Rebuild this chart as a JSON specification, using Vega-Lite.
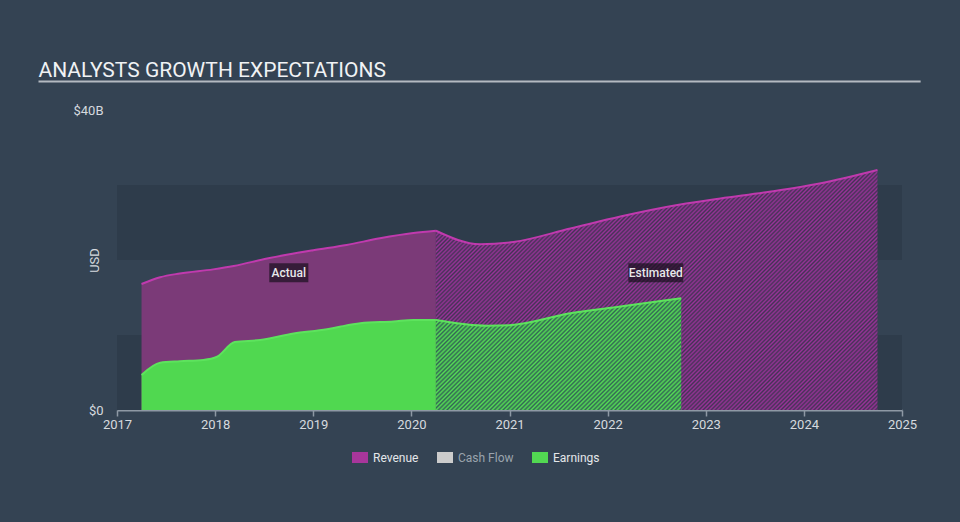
{
"$schema": "https://vega.github.io/schema/vega-lite/v6.json",
"width": 785,
"height": 300,
"autosize": {"type": "none"},
"padding": {"left": 117, "top": 110, "right": 58, "bottom": 112},
"background": "#344353",
"config": {"view": {"stroke": null}, "font": "Roboto"},
"datasets": {
"d": [
{"series":"Revenue","phase":"Actual","t":2017.25,"v":16.8},
{"series":"Revenue","phase":"Actual","t":2017.44,"v":17.7},
{"series":"Revenue","phase":"Actual","t":2017.64,"v":18.2},
{"series":"Revenue","phase":"Actual","t":2017.98,"v":18.75},
{"series":"Revenue","phase":"Actual","t":2018.19,"v":19.2},
{"series":"Revenue","phase":"Actual","t":2018.53,"v":20.2},
{"series":"Revenue","phase":"Actual","t":2019.0,"v":21.3},
{"series":"Revenue","phase":"Actual","t":2019.34,"v":22.0},
{"series":"Revenue","phase":"Actual","t":2019.68,"v":22.9},
{"series":"Revenue","phase":"Actual","t":2020.02,"v":23.6},
{"series":"Revenue","phase":"Actual","t":2020.25,"v":23.9},
{"series":"Revenue","phase":"Estimated","t":2020.25,"v":23.9},
{"series":"Revenue","phase":"Estimated","t":2020.7,"v":22.1},
{"series":"Revenue","phase":"Estimated","t":2021.04,"v":22.4},
{"series":"Revenue","phase":"Estimated","t":2021.62,"v":24.2},
{"series":"Revenue","phase":"Estimated","t":2022.13,"v":25.8},
{"series":"Revenue","phase":"Estimated","t":2022.74,"v":27.4},
{"series":"Revenue","phase":"Estimated","t":2023.15,"v":28.2},
{"series":"Revenue","phase":"Estimated","t":2023.65,"v":29.1},
{"series":"Revenue","phase":"Estimated","t":2024.16,"v":30.2},
{"series":"Revenue","phase":"Estimated","t":2024.75,"v":32.0},
{"series":"Earnings","phase":"Actual","t":2017.25,"v":4.67},
{"series":"Earnings","phase":"Actual","t":2017.44,"v":6.3},
{"series":"Earnings","phase":"Actual","t":2017.64,"v":6.5},
{"series":"Earnings","phase":"Actual","t":2017.88,"v":6.67},
{"series":"Earnings","phase":"Actual","t":2018.02,"v":7.1},
{"series":"Earnings","phase":"Actual","t":2018.2,"v":9.07},
{"series":"Earnings","phase":"Actual","t":2018.46,"v":9.33},
{"series":"Earnings","phase":"Actual","t":2018.8,"v":10.2},
{"series":"Earnings","phase":"Actual","t":2019.14,"v":10.76},
{"series":"Earnings","phase":"Actual","t":2019.27,"v":11.1},
{"series":"Earnings","phase":"Actual","t":2019.48,"v":11.56},
{"series":"Earnings","phase":"Actual","t":2019.82,"v":11.8},
{"series":"Earnings","phase":"Actual","t":2020.02,"v":12.0},
{"series":"Earnings","phase":"Actual","t":2020.25,"v":12.0},
{"series":"Earnings","phase":"Estimated","t":2020.25,"v":12.0},
{"series":"Earnings","phase":"Estimated","t":2020.77,"v":11.24},
{"series":"Earnings","phase":"Estimated","t":2021.0,"v":11.3},
{"series":"Earnings","phase":"Estimated","t":2021.62,"v":12.9},
{"series":"Earnings","phase":"Estimated","t":2022.13,"v":13.8},
{"series":"Earnings","phase":"Estimated","t":2022.75,"v":14.9}
],
"bands": [{"lo":0,"hi":10},{"lo":20,"hi":30}]
},
"layer": [
{
"data": {"name": "bands"},
"mark": {"type": "rect", "fill": "#2e3c4b"},
"encoding": {
"x": {"datum": 2017, "type": "quantitative", "scale": {"domain": [2017, 2025], "nice": false},
"axis": {"values": [2017,2018,2019,2020,2021,2022,2023,2024,2025], "format": "d", "title": null, "grid": false, "labelFlush": false, "tickSize": 6, "labelPadding": 2, "domainColor": "#8e99a5", "domainWidth": 2, "tickColor": "#8e99a5", "tickWidth": 1.5, "labelColor": "#d6dadf", "labelFontSize": 13, "labelFont": "Roboto"}},
"x2": {"datum": 2025},
"y": {"field": "lo", "type": "quantitative", "scale": {"domain": [0, 40], "nice": false},
"axis": {"values": [0, 40], "labelExpr": "datum.value == 0 ? '$0' : '$' + datum.value + 'B'", "title": "USD", "titleX": -19, "titleY": 150, "titleAngle": -90, "titleBaseline": "alphabetic", "titleFontSize": 13, "titleFontWeight": "normal", "titleColor": "#d6dadf", "titleFont": "Roboto", "labelColor": "#d6dadf", "labelFontSize": 13, "labelFont": "Roboto", "labelPadding": 14, "domain": false, "ticks": false, "grid": false}},
"y2": {"field": "hi"}
}
},
{
"data": {"values": [{"label": "ANALYSTS GROWTH EXPECTATIONS"}]},
"mark": {"type": "rule", "color": "#b4bac1", "strokeWidth": 2},
"encoding": {
"x": {"datum": 2016.2, "type": "quantitative", "scale": {"domain": [2017, 2025], "nice": false}},
"x2": {"datum": 2025.19},
"y": {"datum": 43.8, "type": "quantitative", "scale": {"domain": [0, 40], "nice": false}}
}
},
{
"data": {"values": [{"label": "ANALYSTS GROWTH EXPECTATIONS"}]},
"mark": {"type": "text", "align": "left", "baseline": "alphabetic", "fontSize": 21, "fontWeight": "normal", "font": "Roboto", "color": "#f0f2f4"},
"encoding": {
"x": {"datum": 2016.2, "type": "quantitative", "scale": {"domain": [2017, 2025], "nice": false}},
"y": {"datum": 44.4, "type": "quantitative", "scale": {"domain": [0, 40], "nice": false}},
"text": {"field": "label"}
}
},
{
"data": {"name": "d"},
"transform": [{"filter": "false"}],
"mark": {"type": "rect", "opacity": 1},
"encoding": {
"x": {"field": "t", "type": "quantitative", "scale": {"domain": [2017, 2025], "nice": false}},
"y": {"field": "v", "type": "quantitative", "scale": {"domain": [0, 40], "nice": false}},
"color": {"field": "series", "type": "nominal",
"scale": {"domain": ["Revenue", "Cash Flow", "Earnings"], "range": ["#a8369b", "#cccccc", "#52d852"]},
"legend": {"title": null, "orient": "none", "legendX": 235, "legendY": 339.5, "direction": "horizontal", "padding": 0,
"symbolType": "M-1,-0.69H1V0.69H-1Z", "symbolSize": 256, "symbolStrokeWidth": 0, "symbolOpacity": 1,
"labelFontSize": 12, "labelFontWeight": "normal", "labelFont": "Roboto", "labelOffset": 5, "columnPadding": 18,
"encode": {
"labels": {"update": {"fill": {"signal": "datum.value === 'Cash Flow' ? '#9aa3ad' : '#e4e7ea'"}}}
}}}
}
},
{
"data": {"name": "d"},
"transform": [{"filter": "datum.series === 'Revenue' && datum.phase === 'Actual'"}],
"mark": {"type": "area", "interpolate": "monotone", "fill": "#7b3a78"},
"encoding": {
"x": {"field": "t", "type": "quantitative", "scale": {"domain": [2017, 2025], "nice": false}},
"y": {"field": "v", "type": "quantitative", "stack": null, "scale": {"domain": [0, 40], "nice": false}}
}
},
{
"data": {"name": "d"},
"transform": [{"filter": "datum.series === 'Revenue' && datum.phase === 'Estimated'"}],
"mark": {"type": "area", "interpolate": "monotone",
"fill": {"gradient": "linear", "x1": 0, "y1": 0, "x2": 1.1964, "y2": 0.6502, "stops": [
{"offset":0,"color":"#939"},{"offset":0.003,"color":"#435"},{"offset":0.006,"color":"#939"},{"offset":0.009,"color":"#435"},{"offset":0.012,"color":"#939"},{"offset":0.015,"color":"#435"},{"offset":0.018,"color":"#939"},{"offset":0.021,"color":"#435"},{"offset":0.024,"color":"#939"},{"offset":0.027,"color":"#435"},
{"offset":0.03,"color":"#939"},{"offset":0.033,"color":"#435"},{"offset":0.036,"color":"#939"},{"offset":0.039,"color":"#435"},{"offset":0.042,"color":"#939"},{"offset":0.045,"color":"#435"},{"offset":0.048,"color":"#939"},{"offset":0.051,"color":"#435"},{"offset":0.054,"color":"#939"},{"offset":0.057,"color":"#435"},
{"offset":0.06,"color":"#939"},{"offset":0.063,"color":"#435"},{"offset":0.066,"color":"#939"},{"offset":0.069,"color":"#435"},{"offset":0.072,"color":"#939"},{"offset":0.075,"color":"#435"},{"offset":0.078,"color":"#939"},{"offset":0.081,"color":"#435"},{"offset":0.084,"color":"#939"},{"offset":0.087,"color":"#435"},
{"offset":0.09,"color":"#939"},{"offset":0.093,"color":"#435"},{"offset":0.096,"color":"#939"},{"offset":0.099,"color":"#435"},{"offset":0.102,"color":"#939"},{"offset":0.105,"color":"#435"},{"offset":0.108,"color":"#939"},{"offset":0.111,"color":"#435"},{"offset":0.114,"color":"#939"},{"offset":0.117,"color":"#435"},
{"offset":0.12,"color":"#939"},{"offset":0.123,"color":"#435"},{"offset":0.126,"color":"#939"},{"offset":0.129,"color":"#435"},{"offset":0.132,"color":"#939"},{"offset":0.135,"color":"#435"},{"offset":0.138,"color":"#939"},{"offset":0.141,"color":"#435"},{"offset":0.144,"color":"#939"},{"offset":0.147,"color":"#435"},
{"offset":0.15,"color":"#939"},{"offset":0.153,"color":"#435"},{"offset":0.156,"color":"#939"},{"offset":0.159,"color":"#435"},{"offset":0.162,"color":"#939"},{"offset":0.165,"color":"#435"},{"offset":0.168,"color":"#939"},{"offset":0.171,"color":"#435"},{"offset":0.174,"color":"#939"},{"offset":0.177,"color":"#435"},
{"offset":0.18,"color":"#939"},{"offset":0.183,"color":"#435"},{"offset":0.186,"color":"#939"},{"offset":0.189,"color":"#435"},{"offset":0.192,"color":"#939"},{"offset":0.195,"color":"#435"},{"offset":0.198,"color":"#939"},{"offset":0.201,"color":"#435"},{"offset":0.204,"color":"#939"},{"offset":0.207,"color":"#435"},
{"offset":0.21,"color":"#939"},{"offset":0.213,"color":"#435"},{"offset":0.216,"color":"#939"},{"offset":0.219,"color":"#435"},{"offset":0.222,"color":"#939"},{"offset":0.225,"color":"#435"},{"offset":0.228,"color":"#939"},{"offset":0.231,"color":"#435"},{"offset":0.234,"color":"#939"},{"offset":0.237,"color":"#435"},
{"offset":0.24,"color":"#939"},{"offset":0.243,"color":"#435"},{"offset":0.246,"color":"#939"},{"offset":0.249,"color":"#435"},{"offset":0.252,"color":"#939"},{"offset":0.255,"color":"#435"},{"offset":0.258,"color":"#939"},{"offset":0.261,"color":"#435"},{"offset":0.264,"color":"#939"},{"offset":0.267,"color":"#435"},
{"offset":0.27,"color":"#939"},{"offset":0.273,"color":"#435"},{"offset":0.276,"color":"#939"},{"offset":0.279,"color":"#435"},{"offset":0.282,"color":"#939"},{"offset":0.285,"color":"#435"},{"offset":0.288,"color":"#939"},{"offset":0.291,"color":"#435"},{"offset":0.294,"color":"#939"},{"offset":0.297,"color":"#435"},
{"offset":0.3,"color":"#939"},{"offset":0.303,"color":"#435"},{"offset":0.306,"color":"#939"},{"offset":0.309,"color":"#435"},{"offset":0.312,"color":"#939"},{"offset":0.315,"color":"#435"},{"offset":0.318,"color":"#939"},{"offset":0.321,"color":"#435"},{"offset":0.324,"color":"#939"},{"offset":0.327,"color":"#435"},
{"offset":0.33,"color":"#939"},{"offset":0.333,"color":"#435"},{"offset":0.336,"color":"#939"},{"offset":0.339,"color":"#435"},{"offset":0.342,"color":"#939"},{"offset":0.345,"color":"#435"},{"offset":0.348,"color":"#939"},{"offset":0.351,"color":"#435"},{"offset":0.354,"color":"#939"},{"offset":0.357,"color":"#435"},
{"offset":0.36,"color":"#939"},{"offset":0.363,"color":"#435"},{"offset":0.366,"color":"#939"},{"offset":0.369,"color":"#435"},{"offset":0.372,"color":"#939"},{"offset":0.375,"color":"#435"},{"offset":0.378,"color":"#939"},{"offset":0.381,"color":"#435"},{"offset":0.384,"color":"#939"},{"offset":0.387,"color":"#435"},
{"offset":0.39,"color":"#939"},{"offset":0.393,"color":"#435"},{"offset":0.396,"color":"#939"},{"offset":0.399,"color":"#435"},{"offset":0.402,"color":"#939"},{"offset":0.405,"color":"#435"},{"offset":0.408,"color":"#939"},{"offset":0.411,"color":"#435"},{"offset":0.414,"color":"#939"},{"offset":0.417,"color":"#435"},
{"offset":0.42,"color":"#939"},{"offset":0.423,"color":"#435"},{"offset":0.426,"color":"#939"},{"offset":0.429,"color":"#435"},{"offset":0.432,"color":"#939"},{"offset":0.435,"color":"#435"},{"offset":0.438,"color":"#939"},{"offset":0.441,"color":"#435"},{"offset":0.444,"color":"#939"},{"offset":0.447,"color":"#435"},
{"offset":0.45,"color":"#939"},{"offset":0.453,"color":"#435"},{"offset":0.456,"color":"#939"},{"offset":0.459,"color":"#435"},{"offset":0.462,"color":"#939"},{"offset":0.465,"color":"#435"},{"offset":0.468,"color":"#939"},{"offset":0.471,"color":"#435"},{"offset":0.474,"color":"#939"},{"offset":0.477,"color":"#435"},
{"offset":0.48,"color":"#939"},{"offset":0.483,"color":"#435"},{"offset":0.486,"color":"#939"},{"offset":0.489,"color":"#435"},{"offset":0.492,"color":"#939"},{"offset":0.495,"color":"#435"},{"offset":0.498,"color":"#939"},{"offset":0.501,"color":"#435"},{"offset":0.504,"color":"#939"},{"offset":0.507,"color":"#435"},
{"offset":0.51,"color":"#939"},{"offset":0.513,"color":"#435"},{"offset":0.516,"color":"#939"},{"offset":0.519,"color":"#435"},{"offset":0.522,"color":"#939"},{"offset":0.525,"color":"#435"},{"offset":0.528,"color":"#939"},{"offset":0.531,"color":"#435"},{"offset":0.534,"color":"#939"},{"offset":0.537,"color":"#435"},
{"offset":0.54,"color":"#939"},{"offset":0.543,"color":"#435"},{"offset":0.546,"color":"#939"},{"offset":0.549,"color":"#435"},{"offset":0.552,"color":"#939"},{"offset":0.555,"color":"#435"},{"offset":0.558,"color":"#939"},{"offset":0.561,"color":"#435"},{"offset":0.564,"color":"#939"},{"offset":0.567,"color":"#435"},
{"offset":0.57,"color":"#939"},{"offset":0.573,"color":"#435"},{"offset":0.576,"color":"#939"},{"offset":0.579,"color":"#435"},{"offset":0.582,"color":"#939"},{"offset":0.585,"color":"#435"},{"offset":0.588,"color":"#939"},{"offset":0.591,"color":"#435"},{"offset":0.594,"color":"#939"},{"offset":0.597,"color":"#435"},
{"offset":0.6,"color":"#939"},{"offset":0.603,"color":"#435"},{"offset":0.606,"color":"#939"},{"offset":0.609,"color":"#435"},{"offset":0.612,"color":"#939"},{"offset":0.615,"color":"#435"},{"offset":0.618,"color":"#939"},{"offset":0.621,"color":"#435"},{"offset":0.624,"color":"#939"},{"offset":0.627,"color":"#435"},
{"offset":0.63,"color":"#939"},{"offset":0.633,"color":"#435"},{"offset":0.636,"color":"#939"},{"offset":0.639,"color":"#435"},{"offset":0.642,"color":"#939"},{"offset":0.645,"color":"#435"},{"offset":0.648,"color":"#939"},{"offset":0.651,"color":"#435"},{"offset":0.654,"color":"#939"},{"offset":0.657,"color":"#435"},
{"offset":0.66,"color":"#939"},{"offset":0.663,"color":"#435"},{"offset":0.666,"color":"#939"},{"offset":0.669,"color":"#435"},{"offset":0.672,"color":"#939"},{"offset":0.675,"color":"#435"},{"offset":0.678,"color":"#939"},{"offset":0.681,"color":"#435"},{"offset":0.684,"color":"#939"},{"offset":0.687,"color":"#435"},
{"offset":0.69,"color":"#939"},{"offset":0.693,"color":"#435"},{"offset":0.696,"color":"#939"},{"offset":0.699,"color":"#435"},{"offset":0.702,"color":"#939"},{"offset":0.705,"color":"#435"},{"offset":0.708,"color":"#939"},{"offset":0.711,"color":"#435"},{"offset":0.714,"color":"#939"},{"offset":0.717,"color":"#435"},
{"offset":0.72,"color":"#939"},{"offset":0.723,"color":"#435"},{"offset":0.726,"color":"#939"},{"offset":0.729,"color":"#435"},{"offset":0.732,"color":"#939"},{"offset":0.735,"color":"#435"},{"offset":0.738,"color":"#939"},{"offset":0.741,"color":"#435"},{"offset":0.744,"color":"#939"},{"offset":0.747,"color":"#435"},
{"offset":0.75,"color":"#939"},{"offset":0.753,"color":"#435"},{"offset":0.756,"color":"#939"},{"offset":0.759,"color":"#435"},{"offset":0.762,"color":"#939"},{"offset":0.765,"color":"#435"},{"offset":0.768,"color":"#939"},{"offset":0.771,"color":"#435"},{"offset":0.774,"color":"#939"},{"offset":0.777,"color":"#435"},
{"offset":0.78,"color":"#939"},{"offset":0.783,"color":"#435"},{"offset":0.786,"color":"#939"},{"offset":0.789,"color":"#435"},{"offset":0.792,"color":"#939"},{"offset":0.795,"color":"#435"},{"offset":0.798,"color":"#939"},{"offset":0.801,"color":"#435"},{"offset":0.804,"color":"#939"},{"offset":0.807,"color":"#435"},
{"offset":0.81,"color":"#939"},{"offset":0.813,"color":"#435"},{"offset":0.816,"color":"#939"},{"offset":0.819,"color":"#435"},{"offset":0.822,"color":"#939"},{"offset":0.825,"color":"#435"},{"offset":0.828,"color":"#939"},{"offset":0.831,"color":"#435"},{"offset":0.834,"color":"#939"},{"offset":0.837,"color":"#435"},
{"offset":0.84,"color":"#939"},{"offset":0.843,"color":"#435"},{"offset":0.846,"color":"#939"},{"offset":0.849,"color":"#435"},{"offset":0.852,"color":"#939"},{"offset":0.855,"color":"#435"},{"offset":0.858,"color":"#939"},{"offset":0.861,"color":"#435"},{"offset":0.864,"color":"#939"},{"offset":0.867,"color":"#435"},
{"offset":0.87,"color":"#939"},{"offset":0.873,"color":"#435"},{"offset":0.876,"color":"#939"},{"offset":0.879,"color":"#435"},{"offset":0.882,"color":"#939"},{"offset":0.885,"color":"#435"},{"offset":0.888,"color":"#939"},{"offset":0.891,"color":"#435"},{"offset":0.894,"color":"#939"},{"offset":0.897,"color":"#435"},
{"offset":0.9,"color":"#939"},{"offset":0.903,"color":"#435"},{"offset":0.906,"color":"#939"},{"offset":0.909,"color":"#435"},{"offset":0.912,"color":"#939"},{"offset":0.915,"color":"#435"},{"offset":0.918,"color":"#939"},{"offset":0.921,"color":"#435"},{"offset":0.924,"color":"#939"},{"offset":0.927,"color":"#435"},
{"offset":0.93,"color":"#939"},{"offset":0.933,"color":"#435"},{"offset":0.936,"color":"#939"},{"offset":0.939,"color":"#435"},{"offset":0.942,"color":"#939"},{"offset":0.945,"color":"#435"},{"offset":0.948,"color":"#939"},{"offset":0.951,"color":"#435"},{"offset":0.954,"color":"#939"},{"offset":0.957,"color":"#435"},
{"offset":0.96,"color":"#939"},{"offset":0.963,"color":"#435"},{"offset":0.966,"color":"#939"},{"offset":0.969,"color":"#435"},{"offset":0.972,"color":"#939"},{"offset":0.975,"color":"#435"},{"offset":0.978,"color":"#939"},{"offset":0.981,"color":"#435"},{"offset":0.984,"color":"#939"},{"offset":0.987,"color":"#435"},
{"offset":0.99,"color":"#939"},{"offset":0.993,"color":"#435"},{"offset":0.996,"color":"#939"},{"offset":0.999,"color":"#435"},{"offset":1,"color":"#939"}
]}},
"encoding": {
"x": {"field": "t", "type": "quantitative", "scale": {"domain": [2017, 2025], "nice": false}},
"y": {"field": "v", "type": "quantitative", "stack": null, "scale": {"domain": [0, 40], "nice": false}}
}
},
{
"data": {"name": "d"},
"transform": [{"filter": "datum.series === 'Earnings' && datum.phase === 'Actual'"}],
"mark": {"type": "area", "interpolate": "monotone", "fill": "#50d850"},
"encoding": {
"x": {"field": "t", "type": "quantitative", "scale": {"domain": [2017, 2025], "nice": false}},
"y": {"field": "v", "type": "quantitative", "stack": null, "scale": {"domain": [0, 40], "nice": false}}
}
},
{
"data": {"name": "d"},
"transform": [{"filter": "datum.series === 'Earnings' && datum.phase === 'Estimated'"}],
"mark": {"type": "area", "interpolate": "monotone",
"fill": {"gradient": "linear", "x1": 0, "y1": 0, "x2": 1.2126, "y2": 0.5524, "stops": [
{"offset":0,"color":"#5d5"},{"offset":0.006,"color":"#365"},{"offset":0.012,"color":"#5d5"},{"offset":0.018,"color":"#365"},{"offset":0.024,"color":"#5d5"},{"offset":0.03,"color":"#365"},{"offset":0.036,"color":"#5d5"},{"offset":0.042,"color":"#365"},{"offset":0.048,"color":"#5d5"},{"offset":0.054,"color":"#365"},
{"offset":0.06,"color":"#5d5"},{"offset":0.066,"color":"#365"},{"offset":0.072,"color":"#5d5"},{"offset":0.078,"color":"#365"},{"offset":0.084,"color":"#5d5"},{"offset":0.09,"color":"#365"},{"offset":0.096,"color":"#5d5"},{"offset":0.102,"color":"#365"},{"offset":0.108,"color":"#5d5"},{"offset":0.114,"color":"#365"},
{"offset":0.12,"color":"#5d5"},{"offset":0.126,"color":"#365"},{"offset":0.132,"color":"#5d5"},{"offset":0.138,"color":"#365"},{"offset":0.144,"color":"#5d5"},{"offset":0.15,"color":"#365"},{"offset":0.156,"color":"#5d5"},{"offset":0.162,"color":"#365"},{"offset":0.168,"color":"#5d5"},{"offset":0.174,"color":"#365"},
{"offset":0.18,"color":"#5d5"},{"offset":0.186,"color":"#365"},{"offset":0.192,"color":"#5d5"},{"offset":0.198,"color":"#365"},{"offset":0.204,"color":"#5d5"},{"offset":0.21,"color":"#365"},{"offset":0.216,"color":"#5d5"},{"offset":0.222,"color":"#365"},{"offset":0.228,"color":"#5d5"},{"offset":0.234,"color":"#365"},
{"offset":0.24,"color":"#5d5"},{"offset":0.246,"color":"#365"},{"offset":0.252,"color":"#5d5"},{"offset":0.258,"color":"#365"},{"offset":0.264,"color":"#5d5"},{"offset":0.27,"color":"#365"},{"offset":0.276,"color":"#5d5"},{"offset":0.282,"color":"#365"},{"offset":0.288,"color":"#5d5"},{"offset":0.294,"color":"#365"},
{"offset":0.3,"color":"#5d5"},{"offset":0.306,"color":"#365"},{"offset":0.312,"color":"#5d5"},{"offset":0.318,"color":"#365"},{"offset":0.324,"color":"#5d5"},{"offset":0.33,"color":"#365"},{"offset":0.336,"color":"#5d5"},{"offset":0.342,"color":"#365"},{"offset":0.348,"color":"#5d5"},{"offset":0.354,"color":"#365"},
{"offset":0.36,"color":"#5d5"},{"offset":0.366,"color":"#365"},{"offset":0.372,"color":"#5d5"},{"offset":0.378,"color":"#365"},{"offset":0.384,"color":"#5d5"},{"offset":0.39,"color":"#365"},{"offset":0.396,"color":"#5d5"},{"offset":0.402,"color":"#365"},{"offset":0.408,"color":"#5d5"},{"offset":0.414,"color":"#365"},
{"offset":0.42,"color":"#5d5"},{"offset":0.426,"color":"#365"},{"offset":0.432,"color":"#5d5"},{"offset":0.438,"color":"#365"},{"offset":0.444,"color":"#5d5"},{"offset":0.45,"color":"#365"},{"offset":0.456,"color":"#5d5"},{"offset":0.462,"color":"#365"},{"offset":0.468,"color":"#5d5"},{"offset":0.474,"color":"#365"},
{"offset":0.48,"color":"#5d5"},{"offset":0.486,"color":"#365"},{"offset":0.492,"color":"#5d5"},{"offset":0.498,"color":"#365"},{"offset":0.504,"color":"#5d5"},{"offset":0.51,"color":"#365"},{"offset":0.516,"color":"#5d5"},{"offset":0.522,"color":"#365"},{"offset":0.528,"color":"#5d5"},{"offset":0.534,"color":"#365"},
{"offset":0.54,"color":"#5d5"},{"offset":0.546,"color":"#365"},{"offset":0.552,"color":"#5d5"},{"offset":0.558,"color":"#365"},{"offset":0.564,"color":"#5d5"},{"offset":0.57,"color":"#365"},{"offset":0.576,"color":"#5d5"},{"offset":0.582,"color":"#365"},{"offset":0.588,"color":"#5d5"},{"offset":0.594,"color":"#365"},
{"offset":0.6,"color":"#5d5"},{"offset":0.606,"color":"#365"},{"offset":0.612,"color":"#5d5"},{"offset":0.618,"color":"#365"},{"offset":0.624,"color":"#5d5"},{"offset":0.63,"color":"#365"},{"offset":0.636,"color":"#5d5"},{"offset":0.642,"color":"#365"},{"offset":0.648,"color":"#5d5"},{"offset":0.654,"color":"#365"},
{"offset":0.66,"color":"#5d5"},{"offset":0.666,"color":"#365"},{"offset":0.672,"color":"#5d5"},{"offset":0.678,"color":"#365"},{"offset":0.684,"color":"#5d5"},{"offset":0.69,"color":"#365"},{"offset":0.696,"color":"#5d5"},{"offset":0.702,"color":"#365"},{"offset":0.708,"color":"#5d5"},{"offset":0.714,"color":"#365"},
{"offset":0.72,"color":"#5d5"},{"offset":0.726,"color":"#365"},{"offset":0.732,"color":"#5d5"},{"offset":0.738,"color":"#365"},{"offset":0.744,"color":"#5d5"},{"offset":0.75,"color":"#365"},{"offset":0.756,"color":"#5d5"},{"offset":0.762,"color":"#365"},{"offset":0.768,"color":"#5d5"},{"offset":0.774,"color":"#365"},
{"offset":0.78,"color":"#5d5"},{"offset":0.786,"color":"#365"},{"offset":0.792,"color":"#5d5"},{"offset":0.798,"color":"#365"},{"offset":0.804,"color":"#5d5"},{"offset":0.81,"color":"#365"},{"offset":0.816,"color":"#5d5"},{"offset":0.822,"color":"#365"},{"offset":0.828,"color":"#5d5"},{"offset":0.834,"color":"#365"},
{"offset":0.84,"color":"#5d5"},{"offset":0.846,"color":"#365"},{"offset":0.852,"color":"#5d5"},{"offset":0.858,"color":"#365"},{"offset":0.864,"color":"#5d5"},{"offset":0.87,"color":"#365"},{"offset":0.876,"color":"#5d5"},{"offset":0.882,"color":"#365"},{"offset":0.888,"color":"#5d5"},{"offset":0.894,"color":"#365"},
{"offset":0.9,"color":"#5d5"},{"offset":0.906,"color":"#365"},{"offset":0.912,"color":"#5d5"},{"offset":0.918,"color":"#365"},{"offset":0.924,"color":"#5d5"},{"offset":0.93,"color":"#365"},{"offset":0.936,"color":"#5d5"},{"offset":0.942,"color":"#365"},{"offset":0.948,"color":"#5d5"},{"offset":0.954,"color":"#365"},
{"offset":0.96,"color":"#5d5"},{"offset":0.966,"color":"#365"},{"offset":0.972,"color":"#5d5"},{"offset":0.978,"color":"#365"},{"offset":0.984,"color":"#5d5"},{"offset":0.99,"color":"#365"},{"offset":0.996,"color":"#5d5"},{"offset":1,"color":"#365"}
]}},
"encoding": {
"x": {"field": "t", "type": "quantitative", "scale": {"domain": [2017, 2025], "nice": false}},
"y": {"field": "v", "type": "quantitative", "stack": null, "scale": {"domain": [0, 40], "nice": false}}
}
},
{
"data": {"name": "d"},
"transform": [{"filter": "datum.series === 'Revenue'"}],
"mark": {"type": "line", "interpolate": "monotone", "stroke": "#c03aae", "strokeWidth": 2},
"encoding": {
"x": {"field": "t", "type": "quantitative", "scale": {"domain": [2017, 2025], "nice": false}},
"y": {"field": "v", "type": "quantitative", "stack": null, "scale": {"domain": [0, 40], "nice": false}},
"detail": {"field": "phase"}
}
},
{
"data": {"name": "d"},
"transform": [{"filter": "datum.series === 'Earnings'"}],
"mark": {"type": "line", "interpolate": "monotone", "stroke": "#5de35d", "strokeWidth": 2},
"encoding": {
"x": {"field": "t", "type": "quantitative", "scale": {"domain": [2017, 2025], "nice": false}},
"y": {"field": "v", "type": "quantitative", "stack": null, "scale": {"domain": [0, 40], "nice": false}},
"detail": {"field": "phase"}
}
},
{
"data": {"values": [{"label": "Actual"}]},
"mark": {"type": "rect", "fill": "#1a0f1e", "opacity": 0.7},
"encoding": {
"x": {"datum": 2018.552, "type": "quantitative", "scale": {"domain": [2017, 2025], "nice": false}},
"x2": {"datum": 2018.95},
"y": {"datum": 17.03, "type": "quantitative", "scale": {"domain": [0, 40], "nice": false}},
"y2": {"datum": 19.56}
}
},
{
"data": {"values": [{"label": "Actual"}]},
"mark": {"type": "text", "fontSize": 12, "font": "Roboto", "fontWeight": 500, "color": "#e8e8ea", "align": "center", "baseline": "middle"},
"encoding": {
"x": {"datum": 2018.751, "type": "quantitative", "scale": {"domain": [2017, 2025], "nice": false}},
"y": {"datum": 18.29, "type": "quantitative", "scale": {"domain": [0, 40], "nice": false}},
"text": {"field": "label"}
}
},
{
"data": {"values": [{"label": "Estimated"}]},
"mark": {"type": "rect", "fill": "#1a0f1e", "opacity": 0.7},
"encoding": {
"x": {"datum": 2022.211, "type": "quantitative", "scale": {"domain": [2017, 2025], "nice": false}},
"x2": {"datum": 2022.771},
"y": {"datum": 17.03, "type": "quantitative", "scale": {"domain": [0, 40], "nice": false}},
"y2": {"datum": 19.56}
}
},
{
"data": {"values": [{"label": "Estimated"}]},
"mark": {"type": "text", "fontSize": 12, "font": "Roboto", "fontWeight": 500, "color": "#e8e8ea", "align": "center", "baseline": "middle"},
"encoding": {
"x": {"datum": 2022.491, "type": "quantitative", "scale": {"domain": [2017, 2025], "nice": false}},
"y": {"datum": 18.29, "type": "quantitative", "scale": {"domain": [0, 40], "nice": false}},
"text": {"field": "label"}
}
}
]
}
